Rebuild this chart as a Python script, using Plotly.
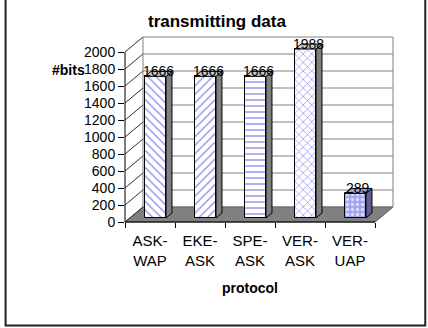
import plotly.graph_objects as go

# ---- data ----
categories = ["ASK-<br>WAP", "EKE-<br>ASK", "SPE-<br>ASK", "VER-<br>ASK", "VER-<br>UAP"]
values = [1666, 1666, 1666, 1988, 289]
y_ticks = [0, 200, 400, 600, 800, 1000, 1200, 1400, 1600, 1800, 2000]
patterns = ["\\", "/", "-", "x", "."]

# ---- layout geometry (pixels) ----
W, H = 428, 328
PL, PR, PB, PT = 125, 393.2, 222, 37
X0, X1 = -0.5, 4.86
Y0, Y1 = 0, 2176.5
KX = (PR - PL) / (X1 - X0)   # px per category unit
KY = (PB - PT) / (Y1 - Y0)   # px per value unit
BDX, BDY = 18 / KX, 15 / KY  # back wall depth
FDX, FDY = 5.5 / KX, 4 / KY  # bar front offset
SDX, SDY = 6 / KX, 5 / KY    # bar side depth
BAR_W = 21 / KX

def pxx(xd):
    return (xd - X0) / (X1 - X0)

def pyy(yd):
    return (yd - Y0) / (Y1 - Y0)

def ppx(p):  # pixel x -> paper
    return (p - PL) / (PR - PL)

def ppy(p):  # pixel y -> paper
    return (PB - p) / (PB - PT)

FONT = "Liberation Sans, Arial, sans-serif"
n = len(values)
xs = list(range(n))

fig = go.Figure()
# lined bars (first four)
fig.add_trace(go.Bar(
    x=[i + FDX for i in xs[:4]], y=values[:4], base=[FDY] * 4, width=BAR_W,
    marker=dict(
        color="white",
        line=dict(color="black", width=1),
        pattern=dict(shape=patterns[:4], fgcolor="#8a8af2", bgcolor="white",
                     size=6, solidity=0.22, fillmode="replace"),
    ),
    hoverinfo="skip", showlegend=False,
))
# dotted bar (last)
fig.add_trace(go.Bar(
    x=[i + FDX for i in xs[4:]], y=values[4:], base=[FDY], width=BAR_W,
    marker=dict(
        color="#a6a8ec",
        line=dict(color="black", width=1),
        pattern=dict(shape=patterns[4:], fgcolor="#dcdcff", bgcolor="#a3a5ea",
                     size=5, solidity=0.35, fillmode="replace"),
    ),
    hoverinfo="skip", showlegend=False,
))

shapes = []
# floor
fx = [X0, 4.5, 4.5 + BDX, X0 + BDX]
fy = [0, 0, BDY, BDY]
path = "M " + " L ".join(f"{pxx(a)},{pyy(b)}" for a, b in zip(fx, fy)) + " Z"
shapes.append(dict(type="path", path=path, xref="paper", yref="paper",
                   fillcolor="#808080", line=dict(color="#505050", width=1), layer="below"))
# back wall gridlines and left wall diagonals
for v in y_ticks:
    shapes.append(dict(type="line", xref="paper", yref="paper",
                       x0=pxx(X0 + BDX), x1=pxx(4.5 + BDX), y0=pyy(v + BDY), y1=pyy(v + BDY),
                       line=dict(color="#808080", width=1), layer="below"))
    shapes.append(dict(type="line", xref="paper", yref="paper",
                       x0=pxx(X0), x1=pxx(X0 + BDX), y0=pyy(v), y1=pyy(v + BDY),
                       line=dict(color="#303030", width=1), layer="below"))
# back wall vertical edges
for xe in [X0 + BDX, 4.5 + BDX]:
    shapes.append(dict(type="line", xref="paper", yref="paper",
                       x0=pxx(xe), x1=pxx(xe), y0=pyy(BDY), y1=pyy(y_ticks[-1] + BDY),
                       line=dict(color="#808080", width=1), layer="below"))
# axis lines
shapes.append(dict(type="line", xref="paper", yref="paper",
                   x0=pxx(X0), x1=pxx(X0), y0=pyy(0), y1=pyy(y_ticks[-1]),
                   line=dict(color="black", width=1)))
shapes.append(dict(type="line", xref="paper", yref="paper",
                   x0=pxx(X0), x1=pxx(4.5), y0=pyy(0), y1=pyy(0),
                   line=dict(color="black", width=1)))
# bar side and top faces
side_cols = ["#808080", "#808080", "#808080", "#808080", "#5f5f8f"]
top_cols = ["#c8c8c8", "#c8c8c8", "#c8c8c8", "#c8c8c8", "#9a9acc"]
for i, v in enumerate(values):
    xl = i + FDX - BAR_W / 2
    xr = i + FDX + BAR_W / 2
    yb = FDY
    yt = FDY + v
    side = f"M {xr},{yb} L {xr},{yt} L {xr+SDX},{yt+SDY} L {xr+SDX},{yb+SDY} Z"
    top = f"M {xl},{yt} L {xr},{yt} L {xr+SDX},{yt+SDY} L {xl+SDX},{yt+SDY} Z"
    shapes.append(dict(type="path", path=side, xref="x", yref="y",
                       fillcolor=side_cols[i], line=dict(color="black", width=1)))
    shapes.append(dict(type="path", path=top, xref="x", yref="y",
                       fillcolor=top_cols[i], line=dict(color="black", width=1)))
# outer frame
shapes.append(dict(type="rect", xref="paper", yref="paper",
                   x0=ppx(5.5), x1=ppx(425.5), y0=ppy(325.5), y1=ppy(-5),
                   line=dict(color="#222222", width=2)))

annotations = []
for i, v in enumerate(values):
    annotations.append(dict(x=i + FDX + SDX / 2, y=FDY + v + SDY, xref="x", yref="y",
                            text=str(v), showarrow=False, yanchor="middle",
                            font=dict(size=14, color="black", family=FONT)))
annotations.append(dict(x=ppx(217), y=ppy(21), xref="paper", yref="paper",
                        text="<b>transmitting data</b>", showarrow=False,
                        xanchor="center", yanchor="middle",
                        font=dict(size=17, color="black", family=FONT)))
annotations.append(dict(x=ppx(87), y=ppy(70), xref="paper", yref="paper",
                        text="<b>#bits</b>", showarrow=False,
                        xanchor="right", yanchor="middle",
                        font=dict(size=14, color="black", family=FONT)))
annotations.append(dict(x=ppx(250), y=ppy(288), xref="paper", yref="paper",
                        text="<b>protocol</b>", showarrow=False,
                        xanchor="center", yanchor="middle",
                        font=dict(size=14, color="black", family=FONT)))

fig.update_layout(
    width=W, height=H,
    margin=dict(l=PL, r=W - PR, t=PT, b=H - PB, pad=0),
    paper_bgcolor="white", plot_bgcolor="white",
    font=dict(family=FONT, size=14, color="black"),
    shapes=shapes, annotations=annotations,
    barmode="overlay",
    xaxis=dict(range=[X0, X1], tickvals=xs, ticktext=categories, ticks="",
               showgrid=False, zeroline=False, showline=False,
               ticklabelstandoff=8,
               tickfont=dict(size=15, color="black", family=FONT),
               minor=dict(ticks="outside", tick0=-0.5, dtick=1, ticklen=5,
                          tickcolor="black", showgrid=False)),
    yaxis=dict(range=[Y0, Y1], tickvals=y_ticks, ticks="outside", ticklen=6,
               tickcolor="black", showgrid=False, zeroline=False, showline=False,
               tickfont=dict(size=14, color="black", family=FONT)),
    bargap=0,
)

fig.write_html("out.html")
